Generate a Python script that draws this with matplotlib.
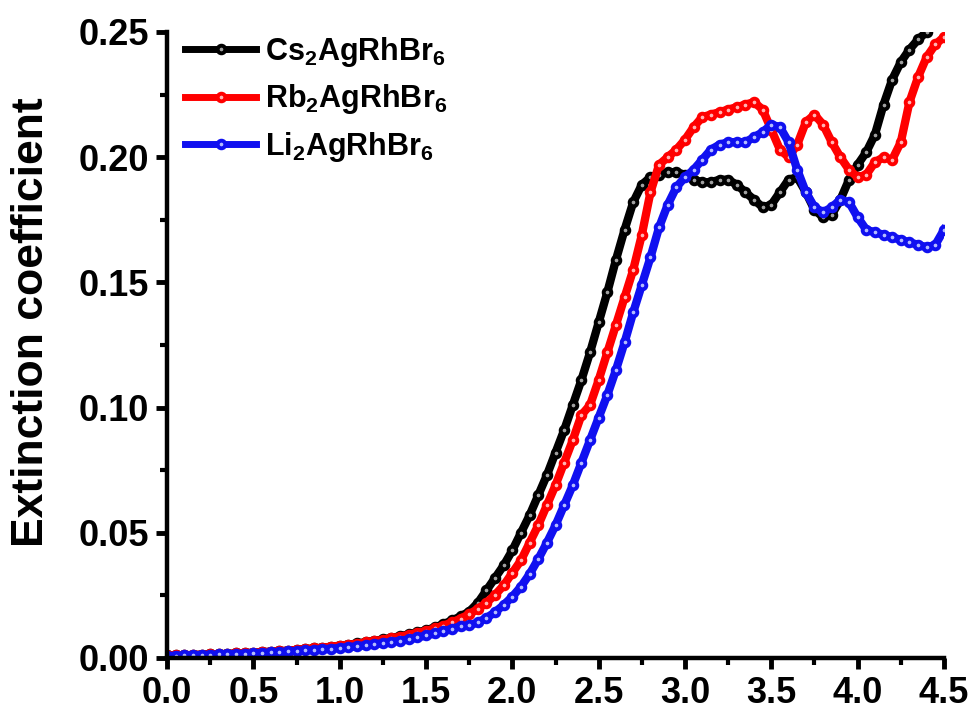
import numpy as np
import matplotlib
matplotlib.use("Agg")
import matplotlib.pyplot as plt
from matplotlib.ticker import MultipleLocator, FormatStrFormatter

plt.rcParams['font.family'] = ['Liberation Sans', 'DejaVu Sans']
plt.rcParams['font.weight'] = 'bold'
plt.rcParams['mathtext.fontset'] = 'custom'
plt.rcParams['mathtext.rm'] = 'Liberation Sans:bold'
plt.rcParams['mathtext.bf'] = 'Liberation Sans:bold'
plt.rcParams['mathtext.default'] = 'bf'

# photon energy (eV), 0.05 step
energy = np.round(np.arange(0, 4.5001, 0.05), 2)

cs_k = [0.0010, 0.0010, 0.0011, 0.0012, 0.0013, 0.0014, 0.0015, 0.0016, 0.0018, 0.0019,
        0.0021, 0.0023, 0.0025, 0.0027, 0.0029, 0.0032, 0.0035, 0.0038, 0.0041, 0.0045,
        0.0049, 0.0053, 0.0058, 0.0063, 0.0068, 0.0074, 0.0080, 0.0087, 0.0094, 0.0102,
        0.0111, 0.0122, 0.0135, 0.0150, 0.0166, 0.0185, 0.0220, 0.0270, 0.0320, 0.0370,
        0.0430, 0.0500, 0.0570, 0.0650, 0.0730, 0.0820, 0.0910, 0.1010, 0.1110, 0.1220,
        0.1340, 0.1460, 0.1590, 0.1710, 0.1820, 0.1890, 0.1920, 0.1930, 0.1940, 0.1940,
        0.1930, 0.1910, 0.1900, 0.1900, 0.1910, 0.1910, 0.1890, 0.1860, 0.1830, 0.1800,
        0.1810, 0.1860, 0.1910, 0.1920, 0.1860, 0.1790, 0.1760, 0.1770, 0.1830, 0.1910,
        0.1970, 0.2020, 0.2090, 0.2210, 0.2310, 0.2380, 0.2430, 0.2470, 0.2500, 0.2530,
        0.2560]

rb_k = [0.0010, 0.0010, 0.0011, 0.0012, 0.0013, 0.0014, 0.0015, 0.0016, 0.0018, 0.0019,
        0.0021, 0.0023, 0.0025, 0.0027, 0.0029, 0.0032, 0.0035, 0.0038, 0.0041, 0.0045,
        0.0049, 0.0053, 0.0057, 0.0062, 0.0067, 0.0073, 0.0079, 0.0085, 0.0092, 0.0100,
        0.0108, 0.0118, 0.0129, 0.0142, 0.0157, 0.0175, 0.0196, 0.0221, 0.0252, 0.0290,
        0.0340, 0.0390, 0.0460, 0.0530, 0.0610, 0.0690, 0.0780, 0.0870, 0.0970, 0.1010,
        0.1110, 0.1220, 0.1330, 0.1440, 0.1550, 0.1690, 0.1860, 0.1970, 0.2000, 0.2030,
        0.2070, 0.2120, 0.2160, 0.2170, 0.2180, 0.2190, 0.2200, 0.2210, 0.2220, 0.2190,
        0.2110, 0.2030, 0.2000, 0.2050, 0.2140, 0.2170, 0.2130, 0.2060, 0.2000, 0.1950,
        0.1920, 0.1930, 0.1980, 0.2000, 0.1990, 0.2060, 0.2220, 0.2320, 0.2400, 0.2450,
        0.2480]

li_k = [0.0008, 0.0009, 0.0010, 0.0011, 0.0012, 0.0013, 0.0014, 0.0015, 0.0016, 0.0017,
        0.0019, 0.0020, 0.0022, 0.0024, 0.0026, 0.0028, 0.0030, 0.0032, 0.0035, 0.0037,
        0.0040, 0.0043, 0.0047, 0.0051, 0.0055, 0.0059, 0.0064, 0.0069, 0.0074, 0.0082,
        0.0090, 0.0098, 0.0107, 0.0116, 0.0127, 0.0130, 0.0142, 0.0160, 0.0183, 0.0212,
        0.0245, 0.0285, 0.0335, 0.0395, 0.0460, 0.0530, 0.0610, 0.0690, 0.0780, 0.0870,
        0.0960, 0.1050, 0.1150, 0.1260, 0.1380, 0.1490, 0.1600, 0.1720, 0.1810, 0.1880,
        0.1920, 0.1950, 0.1990, 0.2030, 0.2050, 0.2060, 0.2060, 0.2060, 0.2080, 0.2100,
        0.2130, 0.2120, 0.2060, 0.1950, 0.1860, 0.1800, 0.1780, 0.1800, 0.1830, 0.1820,
        0.1760, 0.1710, 0.1700, 0.1690, 0.1680, 0.1670, 0.1660, 0.1650, 0.1640, 0.1650,
        0.1710]

labels = [r'Cs$_\mathbf{2}$AgRhBr$_\mathbf{6}$', r'Rb$_\mathbf{2}$AgRhBr$_\mathbf{6}$',
          r'Li$_\mathbf{2}$AgRhBr$_\mathbf{6}$']
colors = ['black', 'red', '#1010f0']
centers = ['#a0a0a0', '#ffb4b4', '#b4bcff']

fig = plt.figure(figsize=(9.78, 7.17), dpi=100)
ax = fig.add_axes([0.1708, 0.0823, 0.7944, 0.8731])

for k, lab, c, cc in zip([cs_k, rb_k, li_k], labels, colors, centers):
    ax.plot(energy, k, color=c, lw=6, marker='o', ms=5.5, mfc=cc, mec=c,
            mew=2.8, label=lab)

ax.set_xlim(0, 4.5)
ax.set_ylim(0, 0.25)
ax.xaxis.set_major_locator(MultipleLocator(0.5))
ax.xaxis.set_minor_locator(MultipleLocator(0.25))
ax.yaxis.set_major_locator(MultipleLocator(0.05))
ax.yaxis.set_minor_locator(MultipleLocator(0.025))
ax.xaxis.set_major_formatter(FormatStrFormatter('%.1f'))
ax.yaxis.set_major_formatter(FormatStrFormatter('%.2f'))

for side in ['top', 'right']:
    ax.spines[side].set_visible(False)
for side in ['left', 'bottom']:
    ax.spines[side].set_linewidth(3.2)

ax.tick_params(which='major', direction='out', length=8, width=3.5,
               labelsize=26, pad=5)
ax.tick_params(which='minor', direction='out', length=5, width=3)

ax.set_ylabel('Extinction coefficient', fontsize=32, fontweight='bold')
ax.yaxis.set_label_coords(-0.148, 0.537)

# legend
leg = ax.legend(loc='upper left', frameon=False, fontsize=22, handlelength=2.3,
                handletextpad=0.3, labelspacing=0.45, borderaxespad=0.2,
                numpoints=1, bbox_to_anchor=(0.0, 1.025))
for h in leg.get_lines():
    h.set_linewidth(5)

fig.savefig('out.png', dpi=100)
